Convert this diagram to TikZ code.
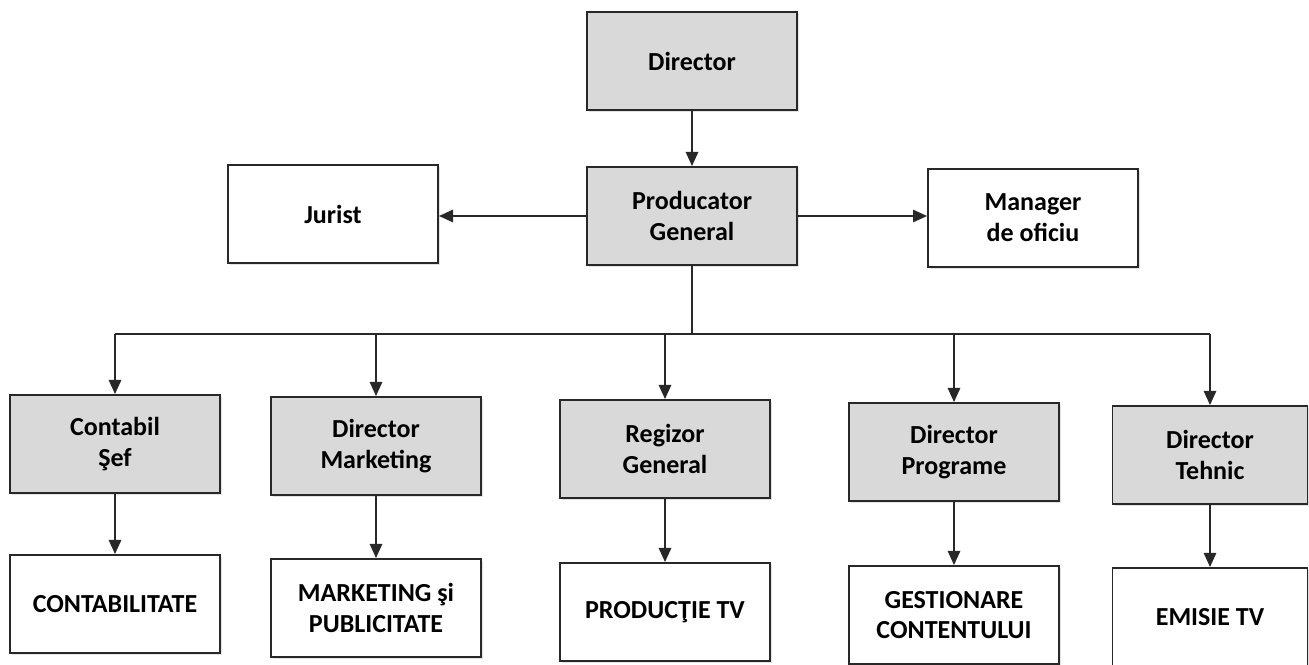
\documentclass[tikz,border=0pt]{standalone}
\usepackage{fontspec}
\setmainfont{Carlito}
\usetikzlibrary{arrows.meta,shadows}
\definecolor{boxgray}{RGB}{217,217,217}
\definecolor{linegray}{RGB}{40,40,40}
\tikzset{
  post/.style={draw=linegray,line width=1.1pt,fill=white,align=center,
    minimum width=4.2cm,minimum height=1.96cm,inner sep=2pt,
    font=\fontsize{14.8}{17.5}\selectfont\bfseries,
    drop shadow={shadow xshift=1.4pt,shadow yshift=-1.4pt,opacity=0.22}},
  head/.style={post,fill=boxgray},
  arr/.style={draw=linegray,line width=1.1pt,-{Triangle[length=8pt,width=7pt]}},
  wire/.style={draw=linegray,line width=1.1pt}
}
\begin{document}
\begin{tikzpicture}[x=0.02cm,y=-0.02cm]
\useasboundingbox (0,0) rectangle (1309,664);
\fill[white] (0,0) rectangle (1309,664);
% top
\node[head] (dir) at (692,61){Director};
\node[head] (prod) at (692,216){Producator\\General};
\node[post] (jur) at (333,214){Jurist};
\node[post] (man) at (1033,218){Manager\\de oficiu};
% second row
\node[head] (cont) at (115,444){Contabil\\Şef};
\node[head] (mark) at (376,446){Director\\Marketing};
\node[head] (reg) at (665,449){Regizor\\General};
\node[head] (prog) at (954,452){Director\\Programe};
\node[head,minimum width=3.9cm] (teh) at (1210,455){Director\\Tehnic};
% third row
\node[post] (contab) at (115,604){CONTABILITATE};
\node[post] (pub) at (376,608){MARKETING şi\\PUBLICITATE};
\node[post] (prodtv) at (665,612){PRODUCŢIE TV};
\node[post] (gest) at (954,615){GESTIONARE\\CONTENTULUI};
\node[post,minimum width=3.9cm] (emis) at (1210,617){EMISIE TV};
% links
\coordinate (bus) at (0,334);
\draw[arr] (dir) -- (prod);
\draw[arr] (prod.west) -- (jur.east |- prod.west);
\draw[arr] (prod.east) -- (man.west |- prod.east);
\draw[wire] (prod.south) -- (prod |- bus);
\draw[wire] (cont |- bus) -- (teh |- bus);
\foreach \a/\b in {cont/contab,mark/pub,reg/prodtv,prog/gest,teh/emis}{
  \draw[arr] (\a |- bus) -- (\a.north);
  \draw[arr] (\a.south) -- (\b.north);
}
\end{tikzpicture}
\end{document}
